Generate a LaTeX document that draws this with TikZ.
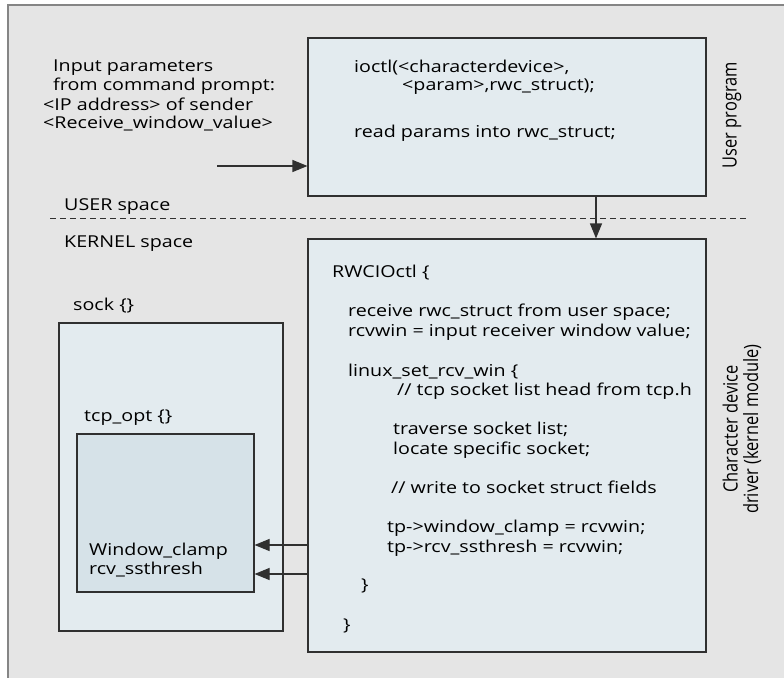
\documentclass[tikz,border=0pt]{standalone}
\usepackage{fontspec}
\setmainfont{Open Sans}[FakeStretch=1.2]
\newfontfamily\vertfont{Open Sans}[FakeStretch=0.833]
\usetikzlibrary{arrows.meta}
\definecolor{bg}{HTML}{E5E5E5}
\definecolor{frame}{HTML}{858585}
\definecolor{boxfill}{HTML}{E3EBEF}
\definecolor{innerfill}{HTML}{D6E2E8}
\definecolor{edge}{HTML}{303030}
\begin{document}
\begin{tikzpicture}[x=1pt,y=-1pt,
  box/.style={draw=edge,line width=1.1pt,fill=boxfill,minimum width=#1,inner sep=0pt},
  txt/.style={anchor=base west,inner sep=0pt,font=\fontsize{16.4}{19}\selectfont,text=black},
  vtxt/.style={rotate=90,inner sep=0pt,align=center,font=\vertfont\fontsize{19.7}{20.5}\selectfont},
  arr/.style={draw=edge,line width=1.1pt,-{Triangle[length=15pt,width=12pt]}}]
\useasboundingbox (0,0) rectangle (784,677);
\fill[bg] (8,5) rectangle (790,690);
\draw[frame,line width=2pt] (8,690) -- (8,5) -- (790,5);
% boxes
\node[box=398pt,minimum height=158pt] (top) at (507,117) {};
\node[box=398pt,minimum height=413pt] (bot) at (507,445.5) {};
\node[box=224pt,minimum height=308pt] (sock) at (171,477) {};
\node[box=177pt,minimum height=158pt,fill=innerfill] (tcp) at (165.5,513) {};
% dashed separator
\coordinate (dl) at (50,218);
\coordinate (dr) at (748,218);
\draw[edge,line width=0.9pt,dash pattern=on 6pt off 4pt] (dl) -- (dr);
% texts left top
\node[txt] (in1) at (53,71) {Input parameters};
\node[txt] (in2) at (53,90) {from command prompt:};
\node[txt] (in3) at (43,110) {<IP address> of sender};
\node[txt] (in4) at (43,128) {<Receive\_window\_value>};
\node[txt] (user) at (64,210) {USER space};
\node[txt] (kern) at (64,247) {KERNEL space};
% top box text
\node[txt] (t1) at (354,72) {ioctl(<characterdevice>,};
\node[txt] (t2) at (402,90) {<param>,rwc\_struct);};
\node[txt] (t3) at (354,137) {read params into rwc\_struct;};
% bottom box text
\node[txt] (b0) at (332,277) {RWCIOctl \{};
\node[txt] (b1) at (348,316) {receive rwc\_struct from user space;};
\node[txt] (b2) at (348,336) {rcvwin = input receiver window value;};
\node[txt] (b3) at (348,376) {linux\_set\_rcv\_win \{};
\node[txt] (b4) at (397,395) {// tcp socket list head from tcp.h};
\node[txt] (b5) at (393,434) {traverse socket list;};
\node[txt] (b6) at (393,454) {locate specific socket;};
\node[txt] (b7) at (391,493) {// write to socket struct fields};
\node[txt] (b8) at (387,532) {tp->window\_clamp = rcvwin;};
\node[txt] (b9) at (387,552) {tp->rcv\_ssthresh = rcvwin;};
\node[txt] (b10) at (361,590) {\}};
\node[txt] (b11) at (343,630) {\}};
% sock texts
\node[txt] (s0) at (73,310) {sock \{\}};
\node[txt] (s1) at (84,421) {tcp\_opt \{\}};
\node[txt] (s2) at (89,555) {Window\_clamp};
\node[txt] (s3) at (89,574) {rcv\_ssthresh};
% vertical labels
\node[vtxt] (up) at (732,115) {User program};
\node[vtxt] (cd) at (742,429) {Character device\\driver (kernel module)};
% connectors
\coordinate (src) at (217,166);
\coordinate (ax) at (596,0);
\coordinate (y1) at (0,545);
\coordinate (y2) at (0,574);
\draw[arr] (src) -- (src -| top.west);
\draw[arr] (top.south -| ax) -- (bot.north -| ax);
\draw[arr] (bot.west |- y1) -- (tcp.east |- y1);
\draw[arr] (bot.west |- y2) -- (tcp.east |- y2);
\end{tikzpicture}
\end{document}
